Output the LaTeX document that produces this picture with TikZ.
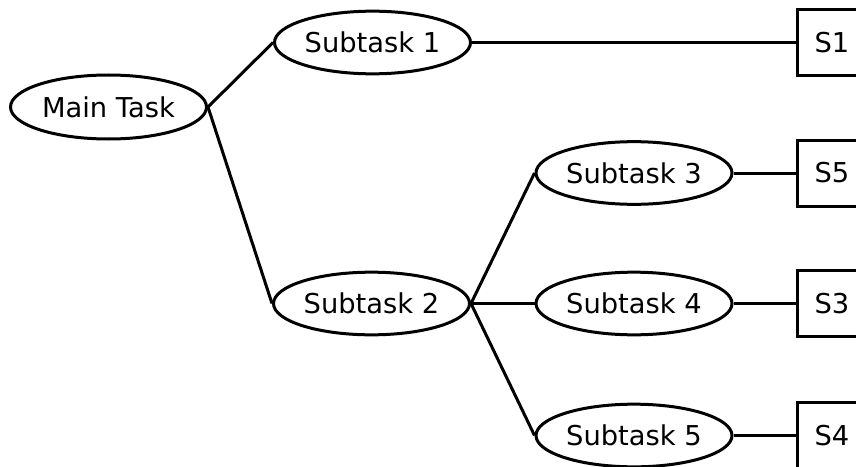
\documentclass[tikz,border=0pt]{standalone}
\usepackage{fontspec}
\setmainfont{DejaVu Sans}
\usetikzlibrary{shapes.geometric}

\begin{document}
\begin{tikzpicture}[x=0.75pt,y=-0.75pt,
  task/.style={ellipse,draw=black,line width=2.25pt,minimum width=147pt,
               minimum height=47pt,inner sep=0pt,font=\fontsize{20.5}{24}\selectfont},
  sol/.style={rectangle,draw=black,line width=2.25pt,minimum width=52.5pt,
              minimum height=49.5pt,inner sep=0pt,font=\fontsize{20.5}{24}\selectfont},
  ed/.style={line width=2.25pt,black}
]
\clip (0,0) rectangle (856,467);
\useasboundingbox (0,0) rectangle (856,467);
\node[task,minimum height=48pt] (main) at (108.5,107) {Main Task};
\node[task] (t1) at (372.5,42.5) {Subtask 1};
\node[task] (t2) at (371.5,303.5) {Subtask 2};
\node[task] (t3) at (634,173) {Subtask 3};
\node[task] (t4) at (634,303.5) {Subtask 4};
\node[task] (t5) at (634,435.5) {Subtask 5};
\node[sol] (s1) at (832,42.5) {S1};
\node[sol] (s5) at (832,173) {S5};
\node[sol] (s3) at (832,303.5) {S3};
\node[sol] (s4) at (832,435.5) {S4};
\draw[ed] (main.east)--(t1.west);
\draw[ed] (main.east)--(t2.west);
\draw[ed] (t1.east)--(s1.west);
\foreach \t/\s in {3/5,4/3,5/4}{
  \draw[ed] (t2.east)--(t\t.west);
  \draw[ed] (t\t.east)--(s\s.west);
}
\end{tikzpicture}
\end{document}
